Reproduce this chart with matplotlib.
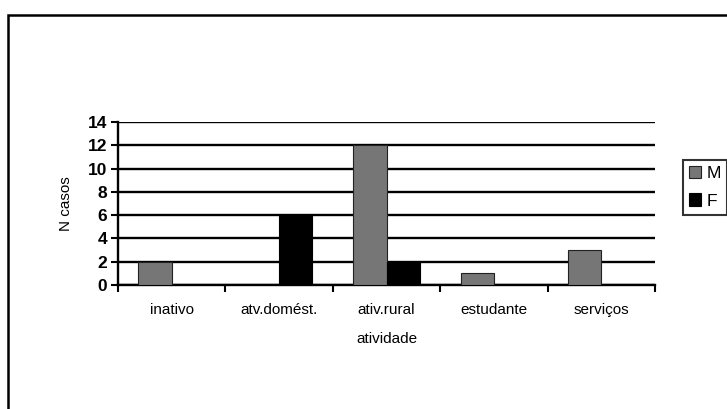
import matplotlib
matplotlib.use("Agg")
import matplotlib.pyplot as plt
import numpy as np
from matplotlib.patches import Rectangle

categories = ["inativo", "atv.domést.", "ativ.rural", "estudante", "serviços"]
m_values = [2, 0, 12, 1, 3]
f_values = [0, 6, 2, 0, 0]
y_ticks = [0, 2, 4, 6, 8, 10, 12, 14]

plt.rcParams["font.family"] = ["Liberation Sans", "DejaVu Sans"]

fig = plt.figure(figsize=(7.27, 4.09), dpi=100)
ax = fig.add_axes([118 / 727, 1 - 285 / 409, (655 - 118) / 727, (285 - 122) / 409])

# outer chart frame (cut at right and bottom like the scan)
fig.patches.append(Rectangle((8 / 727, -0.05), 1.1, 1 - 15 / 409 + 0.05,
                             transform=fig.transFigure, fill=False,
                             edgecolor="black", linewidth=1.8))

x = np.arange(len(categories))
w = 0.31
ax.bar(x - w / 2, m_values, w, color="#767676", edgecolor="#222222",
       linewidth=0.8, label="M", zorder=3)
ax.bar(x + w / 2, f_values, w, color="black", edgecolor="black",
       linewidth=0.8, label="F", zorder=3)

ax.set_xlim(-0.5, len(categories) - 0.5)
ax.set_ylim(0, 14)
ax.set_yticks(y_ticks)
ax.set_yticklabels([str(v) for v in y_ticks], fontsize=12.5, fontweight="bold")
ax.yaxis.grid(True, color="black", linewidth=1.7, zorder=1)
ax.set_axisbelow(True)

ax.set_xticks(np.arange(len(categories) + 1) - 0.5)
ax.set_xticklabels([])
ax.set_xticks(x, minor=True)
ax.set_xticklabels(categories, minor=True, fontsize=11)
ax.tick_params(axis="x", which="minor", length=0, pad=13)
ax.tick_params(axis="x", which="major", length=5, width=1.5, direction="out")
ax.tick_params(axis="y", length=5, width=1.5, pad=3)

for s in ["top", "right"]:
    ax.spines[s].set_visible(False)
ax.spines["left"].set_linewidth(1.7)
ax.spines["bottom"].set_linewidth(1.7)

ax.set_xlabel("atividade", fontsize=11, labelpad=11)
ax.set_ylabel("N casos", fontsize=11, labelpad=10)

leg = fig.legend(loc="upper left", bbox_to_anchor=(683 / 727, 1 - 160 / 409),
                 fontsize=12.5, frameon=True, fancybox=False, edgecolor="black",
                 handlelength=0.7, handleheight=0.7, handletextpad=0.3,
                 borderpad=0.35, labelspacing=0.7, borderaxespad=0)
leg.get_frame().set_linewidth(1.5)

fig.savefig("out.png", dpi=100)
